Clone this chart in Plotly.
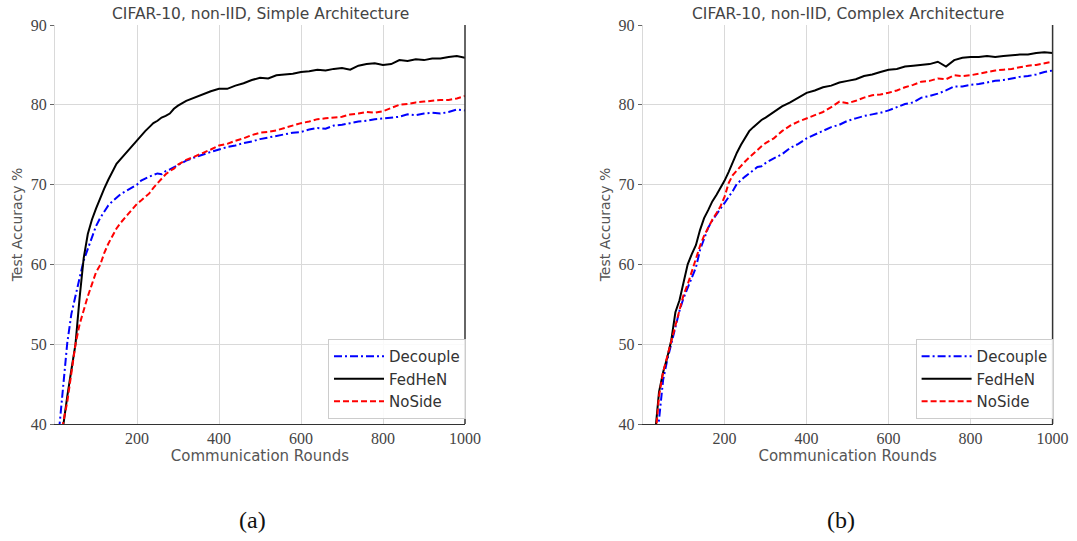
import plotly.graph_objects as go

# ---------------- data ----------------
rounds = [10, 20, 30, 40, 50, 60, 70, 80, 90, 100, 110, 120, 130, 140, 150, 160, 170, 180, 190, 200,
          210, 220, 230, 240, 250, 260, 270, 280, 290, 300,
          320, 340, 360, 380, 400, 420, 440, 460, 480, 500, 520, 540, 560, 580, 600, 620, 640, 660,
          680, 700, 720, 740, 760, 780, 800, 820, 840, 860, 880, 900, 920, 940, 960, 980, 1000]

simple_fedhen = [36.0, 40.0, 43.5, 46.8, 50.0, 55.8, 60.8, 63.8, 65.6, 67.0, 68.3, 69.5, 70.6, 71.6, 72.6,
                 73.2, 73.8, 74.4, 75.0, 75.6, 76.1, 76.7, 77.2, 77.7, 78.0, 78.4, 78.6, 78.9, 79.5, 79.9,
                 80.5, 80.9, 81.4, 81.7, 82.0, 82.0, 82.4, 82.7, 83.1, 83.4, 83.3, 83.7, 83.8, 83.9, 84.1,
                 84.2, 84.4, 84.3, 84.5, 84.6, 84.4, 84.9, 85.1, 85.2, 85.0, 85.1, 85.6, 85.5, 85.7, 85.6,
                 85.8, 85.8, 86.0, 86.1, 85.9]
simple_decouple = [39.3, 44.5, 50.2, 53.8, 56.2, 58.3, 60.5, 62.0, 63.5, 64.8, 65.8, 66.6, 67.4, 67.9, 68.4,
                   68.8, 69.1, 69.4, 69.7, 70.0, 70.5, 70.8, 71.0, 71.2, 71.4, 71.3, 71.7, 71.9, 72.2, 72.5,
                   73.0, 73.4, 73.8, 74.1, 74.4, 74.7, 74.9, 75.2, 75.4, 75.7, 75.9, 76.1, 76.3, 76.5, 76.6,
                   76.9, 77.1, 77.0, 77.4, 77.5, 77.7, 77.9, 78.0, 78.2, 78.3, 78.4, 78.5, 78.8, 78.7, 78.9,
                   79.0, 78.9, 79.1, 79.4, 79.3]
simple_noside = [35.0, 40.2, 42.8, 46.5, 50.0, 52.5, 54.4, 56.0, 57.5, 59.0, 59.9, 61.4, 62.6, 63.6, 64.5,
                 65.2, 65.8, 66.4, 67.0, 67.6, 68.0, 68.4, 68.9, 69.6, 70.2, 70.8, 71.3, 71.7, 72.0, 72.5,
                 73.1, 73.5, 73.9, 74.4, 74.9, 75.1, 75.5, 75.8, 76.2, 76.5, 76.6, 76.8, 77.1, 77.4, 77.7,
                 77.9, 78.2, 78.3, 78.4, 78.5, 78.8, 78.9, 79.1, 79.0, 79.2, 79.6, 80.0, 80.1, 80.3, 80.4,
                 80.5, 80.6, 80.6, 80.8, 81.1]

complex_fedhen = [30.0, 33.5, 38.5, 44.0, 46.5, 48.3, 50.5, 54.0, 55.5, 57.8, 60.0, 61.3, 62.4, 64.3, 65.8,
                  66.8, 67.9, 68.7, 69.6, 70.5, 71.6, 72.9, 74.0, 75.0, 75.9, 76.7, 77.2, 77.7, 78.1, 78.4,
                  79.1, 79.8, 80.3, 80.9, 81.5, 81.8, 82.2, 82.4, 82.8, 83.0, 83.2, 83.6, 83.8, 84.1, 84.4,
                  84.5, 84.8, 84.9, 85.0, 85.1, 85.4, 84.8, 85.6, 85.9, 86.0, 86.0, 86.1, 86.0, 86.1, 86.2,
                  86.3, 86.3, 86.5, 86.6, 86.5]
complex_decouple = [29.0, 32.0, 36.0, 40.5, 45.5, 48.0, 50.0, 52.3, 54.2, 55.8, 57.0, 58.4, 59.6, 61.8, 63.3,
                    64.6, 65.5, 66.3, 67.0, 67.7, 68.4, 69.2, 70.1, 70.6, 71.0, 71.4, 71.8, 72.2, 72.3, 72.7,
                    73.3, 73.8, 74.6, 75.1, 75.8, 76.3, 76.8, 77.2, 77.5, 78.0, 78.3, 78.6, 78.8, 79.0, 79.3,
                    79.7, 80.1, 80.3, 80.9, 81.1, 81.4, 81.8, 82.3, 82.3, 82.5, 82.6, 82.8, 83.0, 83.1, 83.3,
                    83.5, 83.6, 83.8, 84.1, 84.3]
complex_noside = [30.0, 33.0, 37.5, 43.5, 46.5, 48.5, 50.3, 52.5, 54.5, 56.2, 57.5, 59.2, 60.8, 62.3, 63.6,
                  64.7, 65.6, 66.4, 67.3, 68.5, 70.2, 71.2, 71.8, 72.4, 72.9, 73.4, 73.9, 74.4, 74.8, 75.2,
                  75.8, 76.7, 77.4, 77.9, 78.3, 78.7, 79.1, 79.7, 80.4, 80.2, 80.5, 80.9, 81.2, 81.3, 81.5,
                  81.8, 82.2, 82.5, 82.9, 83.0, 83.3, 83.2, 83.7, 83.6, 83.7, 83.9, 84.1, 84.3, 84.4, 84.5,
                  84.7, 84.9, 85.0, 85.2, 85.4]

panel_titles = ["CIFAR-10, non-IID, Simple Architecture", "CIFAR-10, non-IID, Complex Architecture"]
panel_labels = ["(a)", "(b)"]
x_ticks = [200, 400, 600, 800, 1000]
y_ticks = [40, 50, 60, 70, 80, 90]
series_names = ["Decouple", "FedHeN", "NoSide"]

# ---------------- styling ----------------
W, H = 1077, 541
styles = {
    "Decouple": dict(color="#0000ff", dash="8px,3px,2px,3px"),
    "FedHeN": dict(color="#000000", dash="solid"),
    "NoSide": dict(color="#ff0000", dash="6px,3px"),
}
panels = [
    dict(xa="x", ya="y", legend="legend", dom=[55 / W, 465 / W],
         data={"Decouple": simple_decouple, "FedHeN": simple_fedhen, "NoSide": simple_noside}),
    dict(xa="x2", ya="y2", legend="legend2", dom=[642.6 / W, 1052.6 / W],
         data={"Decouple": complex_decouple, "FedHeN": complex_fedhen, "NoSide": complex_noside}),
]
ydom = [1 - 424 / H, 1 - 25 / H]

fig = go.Figure()
for p in panels:
    for name in series_names:
        st = styles[name]
        fig.add_trace(go.Scatter(
            x=rounds, y=p["data"][name], mode="lines", name=name,
            xaxis=p["xa"], yaxis=p["ya"], legend=p["legend"],
            line=dict(color=st["color"], width=2, dash=st["dash"]),
        ))

tick_font = dict(family="Liberation Serif", size=16, color="#444444")
sans = "DejaVu Sans"
grid = "#d9d9d9"

layout = dict(
    width=W, height=H, autosize=False, margin=dict(l=0, r=0, t=0, b=0, pad=0),
    paper_bgcolor="white", plot_bgcolor="white", showlegend=True,
    annotations=[], shapes=[],
)
for i, p in enumerate(panels):
    sfx = "" if i == 0 else "2"
    layout["xaxis" + sfx] = dict(
        domain=p["dom"], anchor="y" + sfx, range=[0, 1000], tickvals=x_ticks, automargin=False,
        showgrid=True, gridcolor=grid, gridwidth=1, zeroline=False,
        showline=True, linecolor="#333333", linewidth=1.3, ticks="",
        tickfont=tick_font,
        title=dict(text="Communication Rounds", font=dict(family=sans, size=15, color="#555555"), standoff=4),
    )
    layout["yaxis" + sfx] = dict(
        domain=ydom, anchor="x" + sfx, range=[40, 90], tickvals=y_ticks, automargin=False,
        showgrid=True, gridcolor=grid, gridwidth=1, zeroline=False,
        showline=True, linecolor=grid, linewidth=1, ticks="outside", ticklen=4, tickcolor="#666666",
        tickfont=tick_font,
        title=dict(text="Test Accuracy %", font=dict(family=sans, size=14, color="#555555"), standoff=4),
    )
    layout[p["legend"]] = dict(
        x=(p["dom"][1] * W + 1) / W, xanchor="right", y=1 - 339 / H, yanchor="top",
        xref="paper", yref="paper",
        bordercolor="#cccccc", borderwidth=1, bgcolor="rgba(255,255,255,0.85)",
        font=dict(family=sans, size=15, color="#333333"),
        tracegroupgap=0, itemwidth=50,
    )
    cx = (p["dom"][0] + p["dom"][1]) / 2
    layout["annotations"].append(dict(
        text=panel_titles[i], x=cx, y=1 - 14 / H, xref="paper", yref="paper",
        xanchor="center", yanchor="middle", showarrow=False,
        font=dict(family=sans, size=15.5, color="#444444"),
    ))
    layout["shapes"].append(dict(
        type="line", xref=p["xa"] + " domain", yref=p["ya"] + " domain",
        x0=1, x1=1, y0=0, y1=1, line=dict(color="#333333", width=1.5),
    ))

layout["annotations"].append(dict(text=panel_labels[0], x=252 / W, y=1 - 520 / H, xref="paper", yref="paper",
                                  xanchor="center", yanchor="middle", showarrow=False,
                                  font=dict(family="Liberation Serif", size=24, color="#111111")))
layout["annotations"].append(dict(text=panel_labels[1], x=841 / W, y=1 - 520 / H, xref="paper", yref="paper",
                                  xanchor="center", yanchor="middle", showarrow=False,
                                  font=dict(family="Liberation Serif", size=24, color="#111111")))

fig.update_layout(**layout)
fig.write_html("out.html", config={"responsive": False})
